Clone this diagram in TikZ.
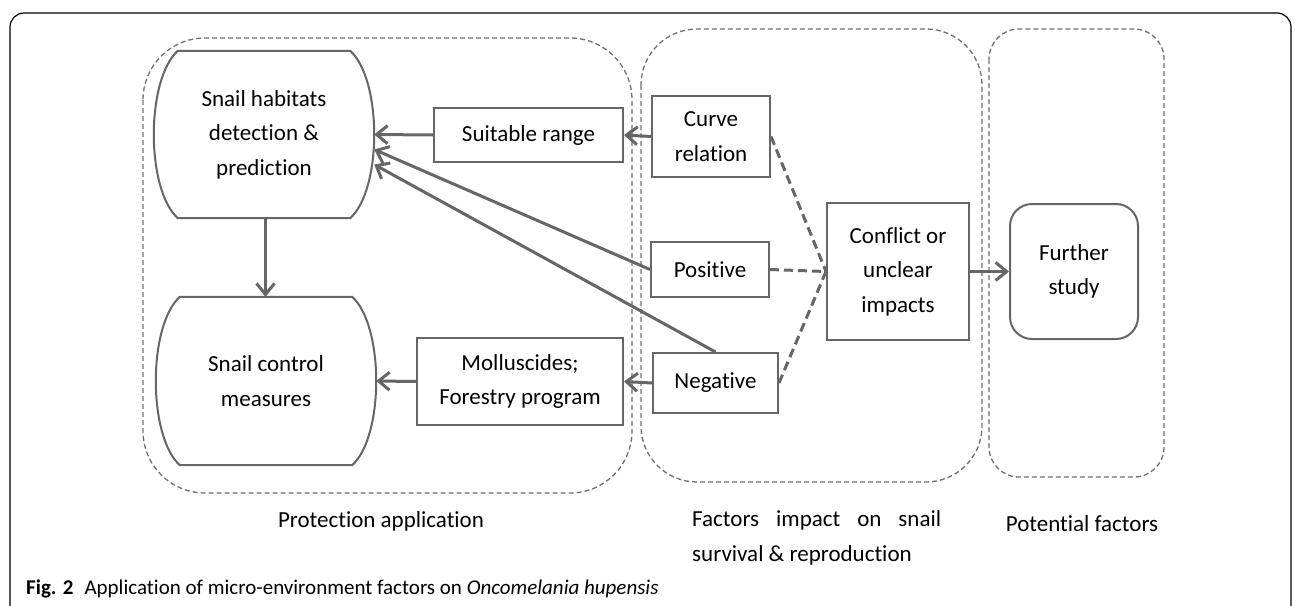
\documentclass[tikz,border=0pt]{standalone}
\usepackage{fontspec}
\setmainfont{Carlito}[Ligatures=NoCommon]
\usetikzlibrary{arrows.meta,calc}
\definecolor{boxgray}{HTML}{666666}
\definecolor{grpgray}{HTML}{707070}
\begin{document}
\begin{tikzpicture}[x=1pt,y=-1pt,
  every node/.style={font=\fontsize{23}{34.5}\selectfont, text=black},
  box/.style={draw=boxgray, line width=2pt, inner sep=0pt, align=center},
  shapebox/.style={inner sep=0pt, align=center},
  outline/.style={draw=boxgray, line width=2pt},
  grp/.style={draw=grpgray, line width=1.3pt, dash pattern=on 5pt off 3pt},
  arr/.style={draw=boxgray, line width=3pt, -{Straight Barb[length=11pt,width=18pt]}},
  dsh/.style={draw=boxgray, line width=3pt, dash pattern=on 9pt off 5pt},
  lbl/.style={inner sep=0pt}
]
\useasboundingbox (0,0) rectangle (1295,605);

% outer frame
\draw[black, line width=1.2pt, rounded corners=14pt] (10,640) -- (10,13) -- (1291,13) -- (1291,640);

% groups
\draw[grp, rounded corners=62pt] (143,38) rectangle (632,493);
\draw[grp, rounded corners=56pt] (641,29) rectangle (982,482);
\draw[grp, rounded corners=30pt] (989,29) rectangle (1164,477);

% left shaped nodes
\node[shapebox, minimum width=220pt, minimum height=167pt] (hab) at (264,134.5) {Snail habitats\\detection \&\\prediction};
\draw[outline] ($(hab.north west)+(24pt,0)$) -- ($(hab.north east)+(-24pt,0)$)
  .. controls ($(hab.north east)+(8pt,-29pt)$) and ($(hab.south east)+(8pt,29pt)$) .. ($(hab.south east)+(-24pt,0)$)
  -- ($(hab.south west)+(24pt,0)$)
  .. controls ($(hab.south west)+(-8pt,29pt)$) and ($(hab.north west)+(-8pt,-29pt)$) .. cycle;

\node[shapebox, minimum width=220pt, minimum height=168pt] (ctl) at (266,381) {Snail control\\measures};
\draw[outline] ($(ctl.north west)+(24pt,0)$) -- ($(ctl.north east)+(-24pt,0)$)
  .. controls ($(ctl.north east)+(8pt,-29pt)$) and ($(ctl.south east)+(8pt,29pt)$) .. ($(ctl.south east)+(-24pt,0)$)
  -- ($(ctl.south west)+(24pt,0)$)
  .. controls ($(ctl.south west)+(-8pt,29pt)$) and ($(ctl.north west)+(-8pt,-29pt)$) .. cycle;

% boxes
\node[box, minimum width=189pt, minimum height=54pt] (sr) at (528.5,135) {Suitable range};
\node[box, minimum width=206pt, minimum height=87pt] (mf) at (520,381.5) {Molluscides;\\Forestry program};
\node[box, minimum width=118pt, minimum height=81pt] (cr) at (711,136.5) {Curve\\relation};
\node[box, minimum width=118pt, minimum height=55pt] (po) at (710,269.5) {Positive};
\node[box, minimum width=125pt, minimum height=60pt] (ne) at (715.5,383) {Negative};
\node[box, minimum width=142pt, minimum height=137pt] (cu) at (898,271.5) {Conflict or\\unclear\\impacts};
\node[box, rounded corners=22pt, minimum width=128pt, minimum height=135pt] (fs) at (1074,271.5) {Further\\study};

% connectors
\draw[arr] (sr.west) -- (hab.east);
\draw[arr] (cr.west) -- (sr.east);
\draw[arr] (po.west) -- ([yshift=-15pt]hab.east);
\draw[arr] (ne.north) -- ([yshift=-30pt]hab.east);
\draw[arr] (ne.west) -- (mf.east);
\draw[arr] (mf.west) -- (ctl.east);
\draw[arr] ([xshift=1.5pt]hab.south) -- ([xshift=1.5pt]hab.south |- ctl.north);
\draw[arr] (cu.east) -- (fs.west);
\draw[dsh] (cr.east) -- (cu.west);
\draw[dsh] (po.east) -- (cu.west);
\draw[dsh] (ne.east) -- (cu.west);

% group labels
\node[lbl] (l1) at (381,521) {Protection application};
\node[lbl, anchor=west, align=left] (l2) at (692,538) {\makebox[249pt][s]{Factors impact on snail}\\survival \& reproduction};
\node[lbl] (l3) at (1082,524) {Potential factors};

% caption
\node[lbl, anchor=west, font=\fontsize{21}{24}\selectfont] (cap) at (26,589) {\textbf{Fig. 2}\hspace{11pt}Application of micro-environment factors on \textit{Oncomelania hupensis}};
\end{tikzpicture}
\end{document}
